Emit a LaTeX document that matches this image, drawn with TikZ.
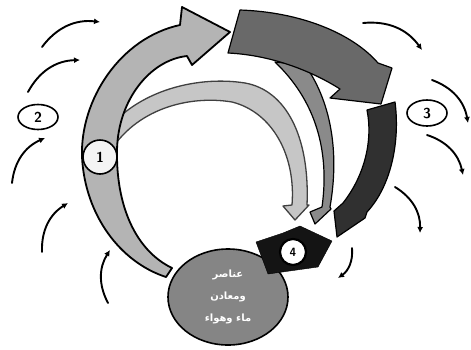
\documentclass[tikz,border=0pt]{standalone}
\usepackage{fontspec}
\usetikzlibrary{arrows.meta,shapes.geometric}
\newfontfamily\arabicfont[Script=Arabic]{DejaVu Sans}
\TeXXeTstate=1
\definecolor{pale}{HTML}{B4B4B4}
\definecolor{paler}{HTML}{C6C6C6}
\definecolor{mid}{HTML}{8A8A8A}
\definecolor{dark}{HTML}{696969}
\definecolor{ink}{HTML}{303030}
\definecolor{core}{HTML}{858585}

\begin{document}
\begin{tikzpicture}[x=1pt,y=-1pt,
  band/.style={draw=black,line width=1.8pt,line join=round},
  swirl/.style={line width=1.9pt,line cap=round,-{Latex[length=6pt,width=6pt]},bend left=30},
  num/.style={draw=black,line width=1.6pt,fill=white,inner sep=1pt,font=\sffamily\bfseries\Large}]
\useasboundingbox (0,0) rectangle (471,349);
% inner light arc
\filldraw[band,fill=paler,draw=black!75,line width=1.3pt] (100,140) .. controls (130,92) and (195,75) .. (245,83)
  .. controls (285,90) and (310,135) .. (307,205) -- (309,205) -- (295,220) -- (283,206) -- (292,205)
  .. controls (296,155) and (272,112) .. (232,102) .. controls (190,95) and (135,108) .. (108,155) -- cycle;
% big light arrow
\filldraw[band,fill=pale] (166,277) .. controls (120,262) and (85,215) .. (82,157)
  .. controls (80,100) and (120,38) .. (180,25) -- (182,7) -- (230,32) -- (192,65) -- (187,56)
  .. controls (150,60) and (118,100) .. (117,150) .. controls (116,205) and (135,250) .. (172,268) -- cycle;
% middle arc
\filldraw[band,fill=mid,line width=1.2pt] (275,62) .. controls (315,100) and (330,150) .. (322,207)
  -- (310,212) -- (315,224) -- (331,209) -- (330,207) .. controls (340,150) and (330,100) .. (305,65) -- cycle;
% dark arrow
\filldraw[band,fill=dark,line width=1.2pt] (240,10) .. controls (300,12) and (352,33) .. (378,63) -- (392,68)
  -- (381,104) -- (330,98) -- (340,89) .. controls (310,70) and (270,55) .. (228,53) -- cycle;
% black arrow
\filldraw[band,fill=ink,line width=1.2pt] (367,110) -- (395,102) .. controls (400,140) and (392,185) .. (367,212)
  -- (365,218) -- (337,237) -- (334,211) -- (343,203) .. controls (365,175) and (373,140) .. (367,110) -- cycle;
% centre
\node[ellipse,draw=black,line width=1.6pt,fill=core,minimum width=120pt,minimum height=96pt,
  text=white,align=center,font=\arabicfont\bfseries\fontsize{10}{22}\selectfont] (core) at (228,297)
  {\beginR عناصر\endR\\ \beginR ومعادن\endR\\ \beginR ماء وهواء\endR};
% step 4 block
\filldraw[fill=black!92,draw=black,line join=round] (256,242) -- (283,233) -- (300,226) -- (332,241)
  -- (318,267) -- (268,274) -- cycle;
\node[num,circle,line width=2.2pt,minimum size=26pt,font=\sffamily\bfseries\large] (n4) at (293,252) {4};
\node[num,circle,fill=white!80!paler,minimum size=34pt] (n1) at (100,157) {1};
\node[num,ellipse,minimum width=40pt,minimum height=25pt] (n2) at (38,117) {2};
\node[num,ellipse,minimum width=40pt,minimum height=26pt] (n3) at (427,113) {3};
% outer swirls
\draw[swirl] (42,47) to (100,22);
\draw[swirl] (28,92) to (80,60);
\draw[swirl] (12,183) to (45,138);
\draw[swirl] (42,252) to (68,203);
\draw[swirl] (108,303) to (110,250);
\draw[swirl] (363,23) to (422,50);
\draw[swirl] (432,80) to (468,123);
\draw[swirl] (427,135) to (463,175);
\draw[swirl] (395,187) to (420,233);
\draw[swirl] (352,248) to (338,278);
\end{tikzpicture}
\end{document}
